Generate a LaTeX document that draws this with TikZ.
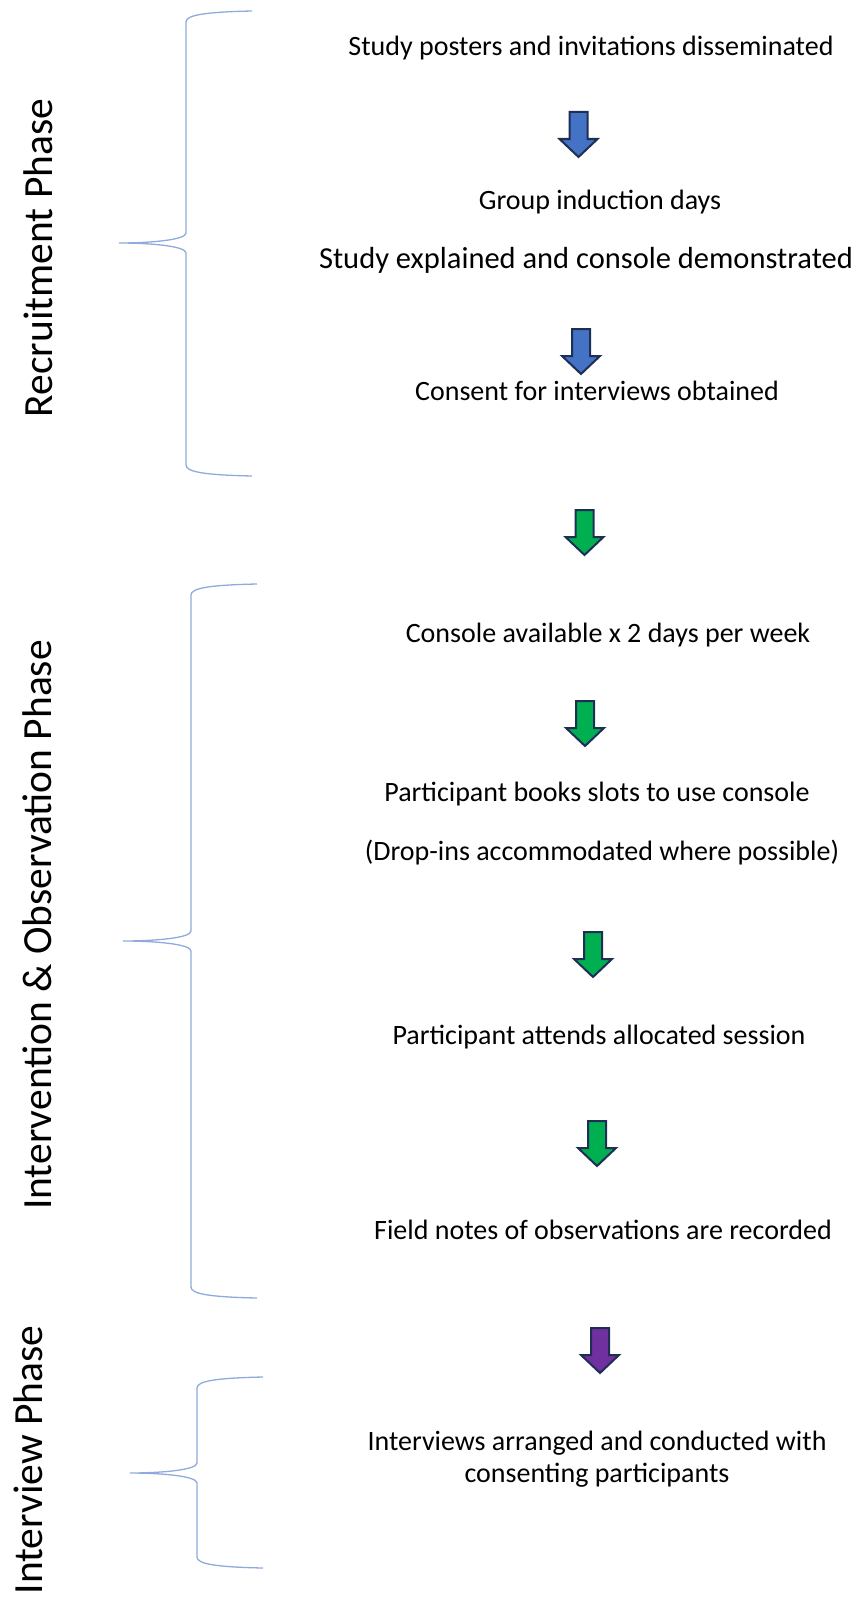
\documentclass[tikz,border=0pt]{standalone}
\usepackage{fontspec}
\setmainfont{Carlito}
\definecolor{bracecol}{RGB}{143,170,220}
\definecolor{arrowline}{RGB}{31,46,84}
\definecolor{ablue}{RGB}{68,114,196}
\definecolor{agreen}{RGB}{0,176,80}
\definecolor{apurple}{RGB}{112,48,160}
\begin{document}
\begin{tikzpicture}[x=1pt,y=-1pt,
  steptext/.style={anchor=base,inner sep=0pt,font=\fontsize{28}{34}\selectfont},
  bigsteptext/.style={anchor=base,inner sep=0pt,font=\fontsize{30.5}{36}\selectfont},
  phasetext/.style={anchor=base,rotate=90,inner sep=0pt,font=\fontsize{41.5}{50}\selectfont},
  bracepath/.style={draw=bracecol,line width=1.3pt},
  pics/darrow/.style={code={
    \draw[line width=2pt,draw=arrowline,fill=#1,line join=miter]
      (-9,0) -- (9,0) -- (9,27) -- (19,27) -- (0,45) -- (-19,27) -- (-9,27) -- cycle;}}
]
\useasboundingbox (0,0) rectangle (855,1600);

% phase labels
\node[phasetext] (p1) at (52,258) {Recruitment Phase};
\node[phasetext] (p2) at (51,925) {Intervention \& Observation Phase};
\node[phasetext] (p3) at (42,1460) {Interview Phase};

% braces
\draw[bracepath] (252,11) .. controls (205,12) and (186,15) .. (186,22)
  -- (186,233) .. controls (186,240) and (150,243) .. (119,243)
  .. controls (150,243) and (186,246) .. (186,253)
  -- (186,465) .. controls (186,472) and (205,475) .. (252,476);
\draw[bracepath] (257,584) .. controls (210,585) and (191,588) .. (191,595)
  -- (191,931) .. controls (191,938) and (155,941) .. (123,941)
  .. controls (155,941) and (191,944) .. (191,951)
  -- (191,1287) .. controls (191,1294) and (210,1297) .. (257,1298);
\draw[bracepath] (263,1377) .. controls (216,1378) and (197,1381) .. (197,1388)
  -- (197,1463) .. controls (197,1470) and (161,1473) .. (130,1473)
  .. controls (161,1473) and (197,1476) .. (197,1483)
  -- (197,1557) .. controls (197,1564) and (216,1567) .. (263,1568);

% step texts
\node[steptext] (t1) at (591,56) {Study posters and invitations disseminated};
\node[steptext] (t2) at (600,209) {Group induction days};
\node[bigsteptext] (t3) at (586,268) {Study explained and console demonstrated};
\node[steptext] (t4) at (597,400) {Consent for interviews obtained};
\node[steptext] (t5) at (608,642) {Console available x 2 days per week};
\node[steptext] (t6) at (597,801) {Participant books slots to use console};
\node[steptext] (t7) at (602,860) {(Drop-ins accommodated where possible)};
\node[steptext] (t8) at (599,1044) {Participant attends allocated session};
\node[steptext] (t9) at (603,1239) {Field notes of observations are recorded};
\node[steptext] (t10) at (597,1450) {Interviews arranged and conducted with};
\node[steptext] (t11) at (597,1482) {consenting participants};

% block arrows
\pic at (578.5,112) {darrow=ablue};
\pic at (581,329) {darrow=ablue};
\pic at (584.5,510) {darrow=agreen};
\pic at (585,701) {darrow=agreen};
\pic at (593,932) {darrow=agreen};
\pic at (597,1121) {darrow=agreen};
\pic at (600,1328) {darrow=apurple};
\end{tikzpicture}
\end{document}
